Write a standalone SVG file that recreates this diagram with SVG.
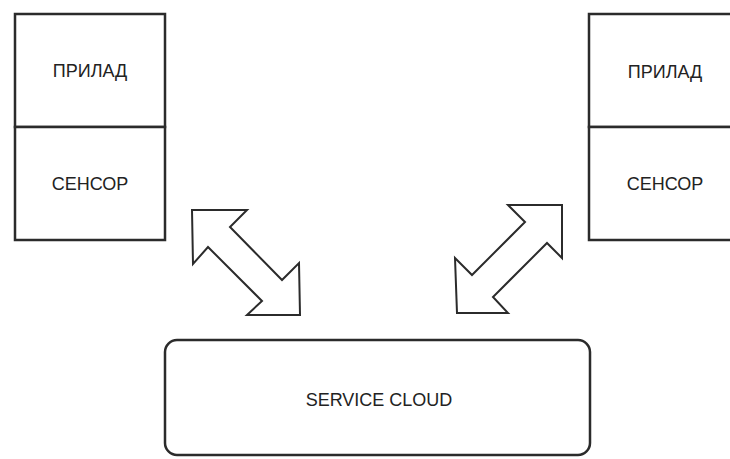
<svg xmlns="http://www.w3.org/2000/svg" width="730" height="459" viewBox="0 0 730 459">
  <style>
    .box { fill: #ffffff; stroke: #2b2b2b; stroke-width: 2.5; }
    .lbl { font-family: "Liberation Sans", Arial, sans-serif; font-size: 18px; fill: #222222; text-anchor: middle; }
    .dbl { fill: #ffffff; stroke: #2b2b2b; stroke-width: 2; stroke-linejoin: miter; }
  </style>
  <rect width="730" height="459" fill="#ffffff"/>

  <!-- left device: actuator above sensor -->
  <g id="device-left">
    <g id="prilad-left">
      <rect class="box" x="15" y="14" width="150" height="113"/>
      <text class="lbl" x="90" y="77">ПРИЛАД</text>
    </g>
    <g id="sensor-left">
      <rect class="box" x="15" y="127" width="150" height="113"/>
      <text class="lbl" x="90" y="190">СЕНСОР</text>
    </g>
  </g>

  <!-- right device, partly outside the canvas -->
  <g id="device-right">
    <g id="prilad-right">
      <rect class="box" x="589" y="14" width="150" height="113"/>
      <text class="lbl" x="665" y="78">ПРИЛАД</text>
    </g>
    <g id="sensor-right">
      <rect class="box" x="589" y="127" width="150" height="113"/>
      <text class="lbl" x="665" y="190">СЕНСОР</text>
    </g>
  </g>

  <!-- cloud service -->
  <g id="service-cloud">
    <rect class="box" x="165" y="340" width="425" height="115" rx="12" ry="12"/>
    <text class="lbl" x="379" y="406">SERVICE CLOUD</text>
  </g>

  <!-- two-way block arrows between devices and the cloud -->
  <g id="connectors">
    <polygon class="dbl" points="192,210 247,210 230,227 282,280 299,263 300,315 247,315 262,301 208,247 193,264"/>
    <polygon class="dbl" points="562,205 508,205 525,222 472,275 455,258 457,313 508,313 493,297 547,243 562,258"/>
  </g>
</svg>
